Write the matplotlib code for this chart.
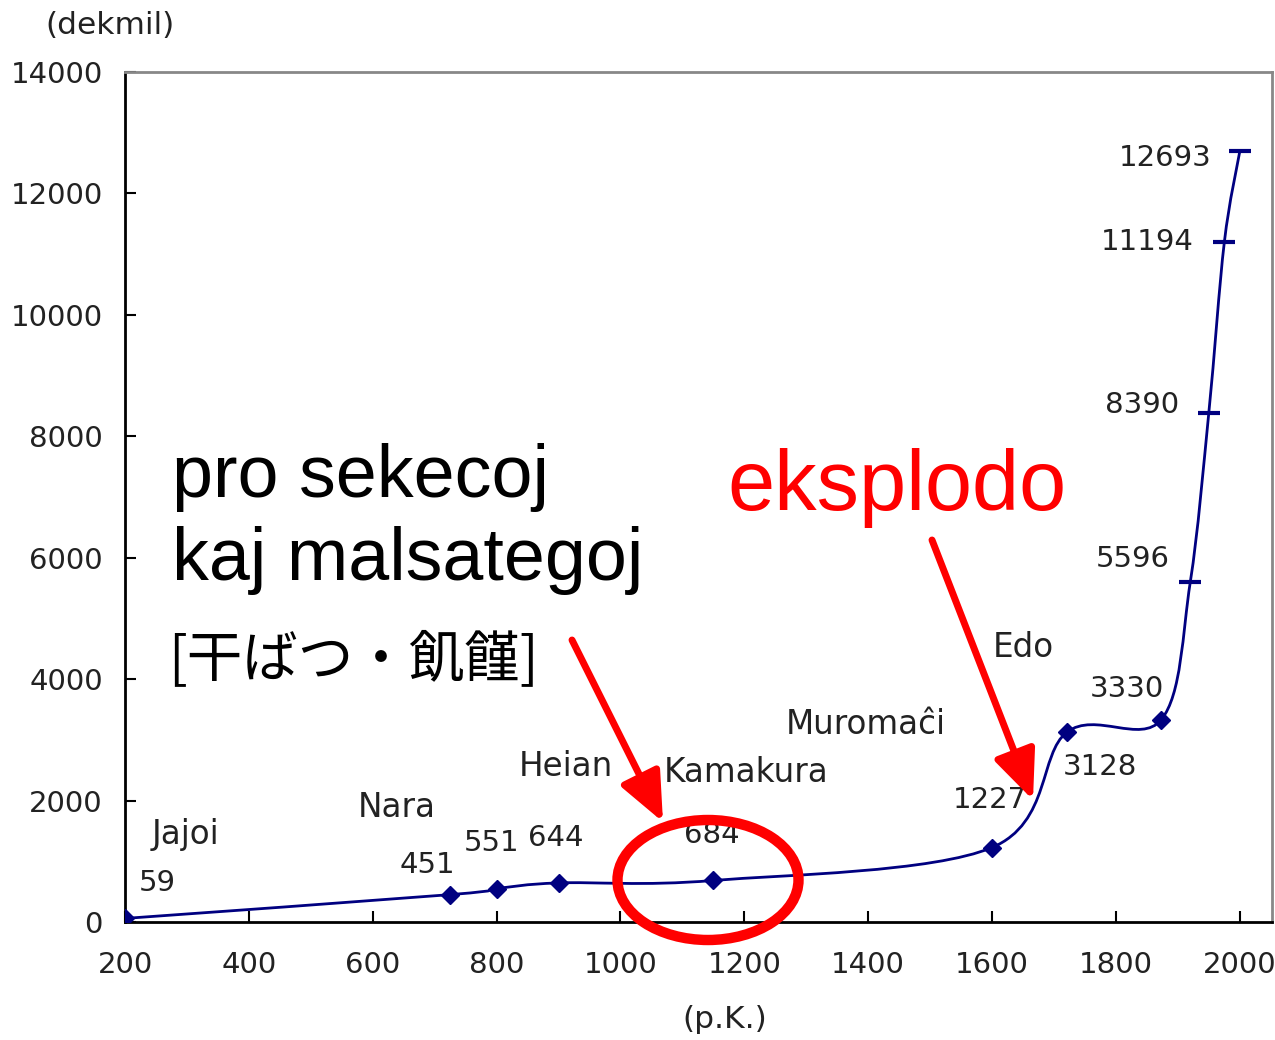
import matplotlib
matplotlib.use("Agg")
import matplotlib.pyplot as plt
from matplotlib.path import Path
from matplotlib.patches import PathPatch, Ellipse, FancyArrowPatch

# population of Japan (dekmil = 10 000 people)
years = [200, 725, 800, 900, 1150, 1600, 1721, 1873, 1920, 1950, 1975, 2000]
population = [59, 451, 551, 644, 684, 1227, 3128, 3330, 5596, 8390, 11194, 12693]
n_diamond = 8  # first points drawn as diamonds, the rest as dashes

value_labels = ["59", "451", "551", "644", "684", "1227", "3128", "3330",
                "5596", "8390", "11194", "12693"]
value_label_pos = [(252, 642), (689, 939), (792, 1301), (896, 1383), (1148, 1433),
                   (1596, 2009), (1774, 2553), (1818, 3838), (1827, 5979),
                   (1843, 8515), (1851, 11200), (1879, 12583)]

eras = ["Jajoi", "Nara", "Heian", "Kamakura", "Muromaĉi", "Edo"]
era_pos = [(297, 1433), (639, 1894), (912, 2553), (1203, 2470), (1396, 3245), (1650, 4513)]

xticks = list(range(200, 2001, 200))
yticks = list(range(0, 14001, 2000))

line_color = "#000080"
label_color = "#222222"

fig = plt.figure(figsize=(12.75, 10.4), dpi=100)
ax = fig.add_axes([125 / 1275, 1 - 922 / 1040, (1272 - 125) / 1275, (922 - 72) / 1040])

# smoothed line (cubic Bezier segments, Catmull-Rom style control points)
pts = list(zip(years, population))
verts = [pts[0]]
codes = [Path.MOVETO]
for i in range(len(pts) - 1):
    p0 = pts[i - 1] if i > 0 else pts[i]
    p1 = pts[i]
    p2 = pts[i + 1]
    p3 = pts[i + 2] if i + 2 < len(pts) else pts[i + 1]
    c1 = (p1[0] + (p2[0] - p0[0]) / 6, p1[1] + (p2[1] - p0[1]) / 6)
    c2 = (p2[0] - (p3[0] - p1[0]) / 6, p2[1] - (p3[1] - p1[1]) / 6)
    verts += [c1, c2, p2]
    codes += [Path.CURVE4] * 3
ax.add_patch(PathPatch(Path(verts, codes), facecolor="none", edgecolor=line_color, lw=2, zorder=3))

ax.plot(years[:n_diamond], population[:n_diamond], ls="none", marker="D",
        ms=9, color=line_color, zorder=4)
ax.plot(years[n_diamond:], population[n_diamond:], ls="none", marker="_",
        ms=16, mew=3, color=line_color, zorder=4)

for txt, (x, y) in zip(value_labels, value_label_pos):
    ax.text(x, y, txt, ha="center", va="center", fontsize=21, color=label_color)
for txt, (x, y) in zip(eras, era_pos):
    ax.text(x, y, txt, ha="center", va="center", fontsize=23.5, color=label_color)

ax.set_xlim(200, 2052)
ax.set_ylim(0, 14000)
ax.set_xticks(xticks)
ax.set_yticks(yticks)
ax.tick_params(direction="in", length=8, width=1.5, labelsize=21, labelcolor=label_color)
ax.tick_params(axis="x", pad=21)
ax.tick_params(axis="y", pad=16)
for side in ["left", "bottom"]:
    ax.spines[side].set_color("black")
    ax.spines[side].set_linewidth(2)
for side in ["top", "right"]:
    ax.spines[side].set_color("#888888")
    ax.spines[side].set_linewidth(2)

fig.text(110 / 1275, 1 - 25 / 1040, "(dekmil)", ha="center", va="center", fontsize=22.5, color=label_color)
fig.text(725 / 1275, 1 - 1020 / 1040, "(p.K.)", ha="center", va="center", fontsize=22.5, color=label_color)

# annotations
fig.text(172 / 1275, 1 - 497 / 1040, "pro sekecoj", fontsize=53, family="Liberation Sans",
         ha="left", va="baseline", color="black")
fig.text(172 / 1275, 1 - 580 / 1040, "kaj malsategoj", fontsize=53, family="Liberation Sans",
         ha="left", va="baseline", color="black")
fig.text(168 / 1275, 1 - 660 / 1040, "[干ばつ・飢饉]", fontsize=40, family=["Noto Sans CJK JP"],
         ha="left", va="center", color="black")
fig.text(727 / 1275, 1 - 510 / 1040, "eksplodo", fontsize=61, family="Liberation Sans",
         ha="left", va="baseline", color="#ff0000")

for (x0, y0), (x1, y1) in [((572, 640), (663, 822)), ((932, 540), (1033, 800))]:
    arr = FancyArrowPatch((x0 / 1275, 1 - y0 / 1040), (x1 / 1275, 1 - y1 / 1040),
                          transform=fig.transFigure, color="#ff0000", lw=5,
                          arrowstyle="-|>,head_length=1.5,head_width=0.65",
                          mutation_scale=20, shrinkA=0, shrinkB=0, zorder=10)
    fig.add_artist(arr)

fig.add_artist(Ellipse((708 / 1275, 1 - 880 / 1040), 181 / 1275, 120 / 1040,
                       transform=fig.transFigure, fill=False, edgecolor="#ff0000", lw=7.5, zorder=10))

fig.savefig("out.png", dpi=100)
